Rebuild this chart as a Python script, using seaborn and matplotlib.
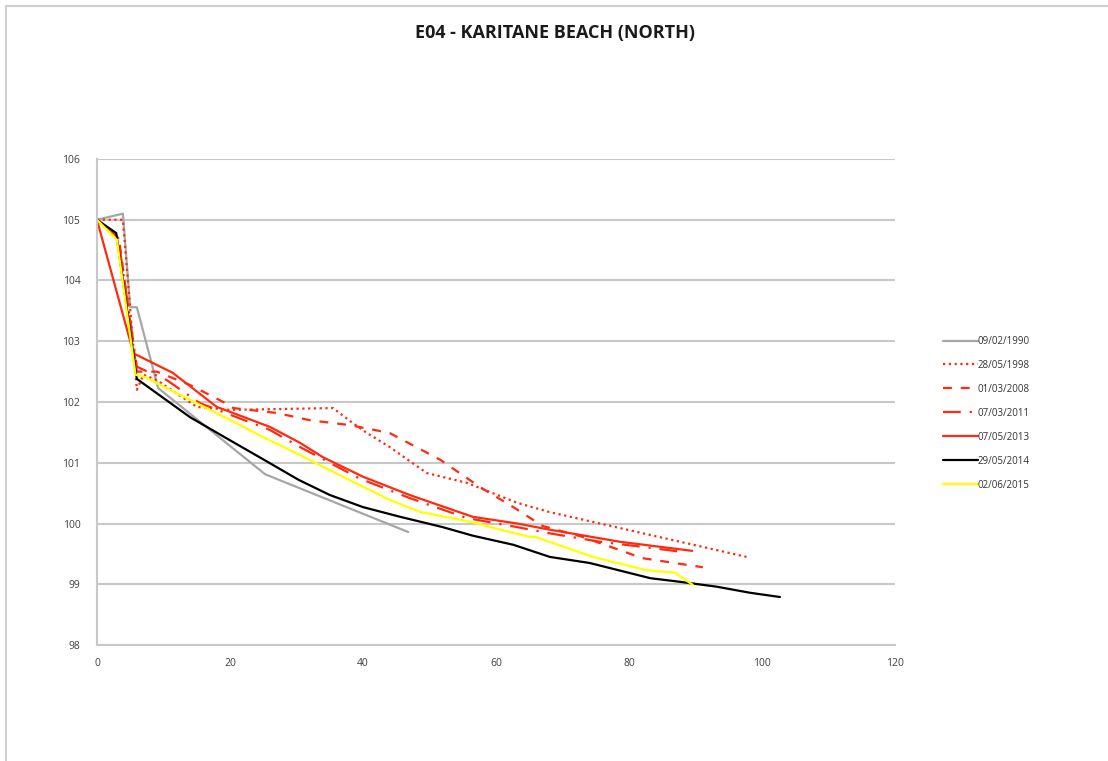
import pandas as pd
import matplotlib
matplotlib.use("Agg")
import matplotlib.pyplot as plt
import seaborn as sns
from matplotlib.lines import Line2D

# Survey profiles (distance m, elevation m)
x_1990 = [0, 3.9, 5.0, 6.0, 9.2, 25.3, 46.8]
y_1990 = [105.0, 105.1, 103.56, 103.56, 102.23, 100.81, 99.86]

x_1998 = [0, 3.9, 6.0, 7.0, 9.0, 15, 20, 35.5, 38.5, 40.6, 44, 49.6, 55.6, 63.2, 68, 97.7]
y_1998 = [105.0, 105.0, 102.2, 102.45, 102.36, 101.92, 101.87, 101.9, 101.65, 101.49,
          101.26, 100.83, 100.67, 100.34, 100.19, 99.45]

x_2008 = [0, 3.3, 6, 9, 14, 19, 20.5, 27, 32, 38, 44, 51.6, 57.6, 62.6, 67, 73, 82, 91.1]
y_2008 = [105.0, 104.7, 102.5, 102.5, 102.28, 102.0, 101.9, 101.82, 101.7, 101.62,
          101.49, 101.05, 100.6, 100.27, 99.96, 99.78, 99.43, 99.28]

x_2011 = [0, 3.2, 6, 10.5, 15.5, 26, 30.5, 39.5, 47, 55.6, 63.2, 68, 75.6, 83.2, 88.1]
y_2011 = [105.0, 104.7, 102.58, 102.36, 101.98, 101.54, 101.26, 100.74, 100.42, 100.09,
          99.94, 99.84, 99.70, 99.60, 99.53]

x_2013 = [0, 5.5, 11.4, 18, 26, 30.5, 34, 40, 47, 56.5, 63.2, 68, 78.6, 89.5]
y_2013 = [105.0, 102.8, 102.48, 101.92, 101.59, 101.33, 101.09, 100.77, 100.47, 100.11,
          100.0, 99.9, 99.7, 99.55]

x_2014 = [0, 2.9, 6.0, 14, 20, 25.1, 30.3, 35, 40, 45.6, 52, 56.5, 62.6, 68.1, 74.1,
          83.2, 87.7, 93.2, 98.2, 102.7]
y_2014 = [105.0, 104.78, 102.38, 101.75, 101.37, 101.05, 100.72, 100.47, 100.27, 100.11,
          99.94, 99.8, 99.65, 99.45, 99.35, 99.10, 99.04, 98.96, 98.86, 98.79]

x_2015 = [0, 3, 5.8, 7.2, 21, 25, 30.5, 35.5, 44, 48.6, 56.5, 60.6, 65.1, 65.9, 74.6,
          82.7, 86.9, 89.6]
y_2015 = [105.0, 104.67, 102.45, 102.41, 101.65, 101.42, 101.13, 100.85, 100.39, 100.19,
          100.02, 99.9, 99.78, 99.78, 99.45, 99.23, 99.19, 98.99]

labels = ["09/02/1990", "28/05/1998", "01/03/2008", "07/03/2011",
          "07/05/2013", "29/05/2014", "02/06/2015"]
xs = [x_1990, x_1998, x_2008, x_2011, x_2013, x_2014, x_2015]
ys = [y_1990, y_1998, y_2008, y_2011, y_2013, y_2014, y_2015]

red = "#FF2A10"
colors = ["#A6A6A6", red, red, red, red, "#000000", "#FFFF00"]
dashes = [None, (1, 1.6), (4, 4), (8, 4, 1, 4), None, None, None]

sns.set_style("white")
plt.rcParams["font.family"] = ["Open Sans", "DejaVu Sans"]

fig = plt.figure(figsize=(11.08, 7.61), dpi=100)
ax = fig.add_axes([0.0875, 0.1524, 0.7203, 0.6387])

for lab, x, y, c, d in zip(labels, xs, ys, colors, dashes):
    df = pd.DataFrame({"dist": x, "elev": y})
    sns.lineplot(data=df, x="dist", y="elev", ax=ax, sort=False, estimator=None,
                 color=c, linewidth=1.6, label=lab)
    if d is not None:
        ax.lines[-1].set_dashes(d)

ax.set_xlim(0, 120)
ax.set_ylim(98, 106)
ax.set_xticks(range(0, 121, 20))
ax.set_yticks(range(98, 107))
ax.set_xlabel("")
ax.set_ylabel("")
ax.yaxis.grid(True, color="#C8C8C8", linewidth=1.5)
ax.set_axisbelow(True)
for side in ["top", "right"]:
    ax.spines[side].set_visible(False)
for side in ["left", "bottom"]:
    ax.spines[side].set_color("#C8C8C8")
    ax.spines[side].set_linewidth(1.5)
ax.tick_params(axis="both", which="major", direction="out", length=4, width=1.2,
               color="#C8C8C8", labelcolor="#404040", labelsize=7.5, pad=8)
ax.tick_params(axis="x", pad=5)

fig.suptitle("E04 - KARITANE BEACH (NORTH)", x=0.501, y=0.969, fontsize=13,
             fontweight="bold", color="#1A1A1A")

leg = ax.legend(loc="center left", bbox_to_anchor=(0.843, 0.457),
                bbox_transform=fig.transFigure, frameon=False, fontsize=7,
                handlelength=3.6, handletextpad=0.0, labelspacing=1.33)
for t in leg.get_texts():
    t.set_color("#333333")

# outer frame lines (top and left only, as in the reference)
fig.add_artist(Line2D([0.0055, 1.0], [0.9925, 0.9925], color="#D0D0D0", linewidth=1.5,
                      transform=fig.transFigure))
fig.add_artist(Line2D([0.0055, 0.0055], [0.0, 0.9925], color="#D0D0D0", linewidth=1.5,
                      transform=fig.transFigure))

fig.savefig("out.png", dpi=100)
